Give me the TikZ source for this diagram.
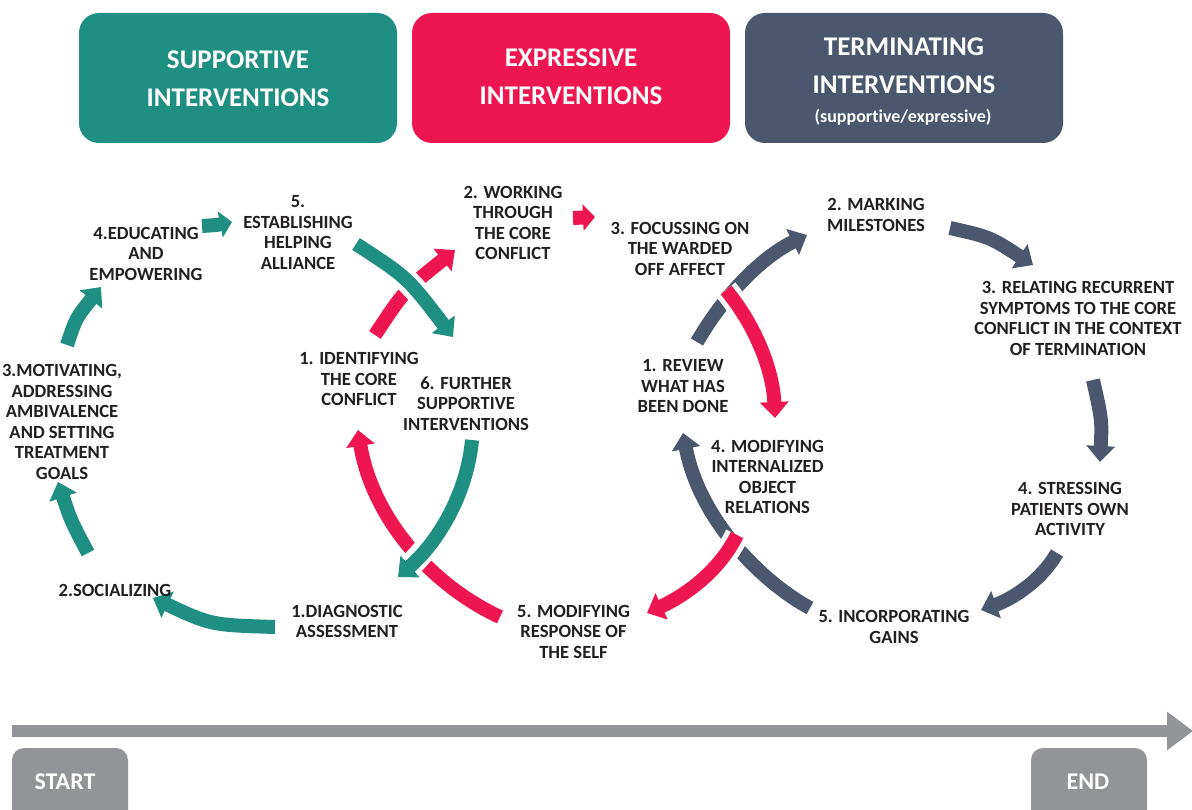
\documentclass[tikz,border=0pt]{standalone}
\usepackage{fontspec}
\setmainfont{Carlito}[Ligatures=NoCommon]
\usetikzlibrary{arrows.meta}
\definecolor{tealc}{HTML}{1F8F84}
\definecolor{redc}{HTML}{EE1651}
\definecolor{slatec}{HTML}{4B566F}
\definecolor{greyc}{HTML}{939498}
\definecolor{ink}{HTML}{231F20}
\begin{document}
\begin{tikzpicture}[x=1pt,y=-1pt,
  lbl/.style={font=\bfseries\fontsize{18.6}{20.5}\selectfont, text=ink, align=center, inner sep=0pt},
  hdrbox/.style={rounded corners=20pt, minimum width=318pt, minimum height=130pt, inner sep=0pt},
  hdrtxt/.style={text=white, align=center, inner sep=0pt, font=\bfseries\fontsize{27}{38}\selectfont},
  carrow/.style={line width=14pt, -{Triangle[width=28pt,length=16pt]}},
  smallarrow/.style={line width=14pt, -{Triangle[width=26pt,length=12pt]}},
  gapline/.style={draw=white, line width=24pt},
  endbox/.style={fill=greyc, rounded corners=12pt, minimum width=116pt, minimum height=90pt, inner sep=0pt},
  endtxt/.style={text=white, inner sep=0pt, font=\bfseries\fontsize{24}{28}\selectfont}
]
\useasboundingbox (0,0) rectangle (1192,810);

% header boxes
\node[hdrbox, fill=tealc] (hsup) at (238,78) {};
\node[hdrbox, fill=redc] (hexp) at (571,78) {};
\node[hdrbox, fill=slatec] (hter) at (904,78) {};
\node[hdrtxt] (tsup) at (238,79) {SUPPORTIVE\\INTERVENTIONS};
\node[hdrtxt] (texp) at (571,77) {EXPRESSIVE\\INTERVENTIONS};
\node[hdrtxt] (tter) at (904,66) {TERMINATING\\INTERVENTIONS};
\node[text=white, inner sep=0pt, font=\bfseries\fontsize{18}{21}\selectfont] (tter2) at (903,117) {(supportive/expressive)};

% timeline
\coordinate (tl0) at (12,731);
\coordinate (tl1) at (1193,731);
\draw[line width=12pt, greyc, -{Triangle[width=37pt,length=26pt]}] (tl0) -- (tl1);
\node[endbox] (bstart) at (70,793) {};
\node[endbox] (bend) at (1089,793) {};
\node[endtxt] (tstart) at (65,782) {START};
\node[endtxt] (tend) at (1088,782) {END};

% arrow end points
\coordinate (a1s) at (275,627); \coordinate (a1e) at (153,598);
\coordinate (a2s) at (88,553);  \coordinate (a2e) at (58,482);
\coordinate (a3s) at (67,345);  \coordinate (a3e) at (101,287);
\coordinate (a4s) at (202,226); \coordinate (a4e) at (232,222);
\coordinate (a5s) at (356,244); \coordinate (a5e) at (453,337);
\coordinate (a6s) at (472,440); \coordinate (a6e) at (398,577);
\coordinate (b1s) at (375,335); \coordinate (b1e) at (455,250);
\coordinate (b2s) at (573,218); \coordinate (b2e) at (595,217);
\coordinate (b3s) at (726,290); \coordinate (b3e) at (775,418);
\coordinate (b4s) at (737,535); \coordinate (b4e) at (647,613);
\coordinate (b5s) at (500,617); \coordinate (b5e) at (358,430);
\coordinate (c1s) at (697,342); \coordinate (c1e) at (807,235);
\coordinate (c2s) at (950,228); \coordinate (c2e) at (1033,265);
\coordinate (c3s) at (1093,380); \coordinate (c3e) at (1100,462);
\coordinate (c4s) at (1057,553); \coordinate (c4e) at (981,610);
\coordinate (c5s) at (810,608); \coordinate (c5e) at (683,433);

% lower arrows
\draw[carrow, tealc] (a1s) .. controls (211,625) .. (a1e);
\draw[carrow, tealc] (a2s) .. controls (71,521) .. (a2e);
\draw[carrow, tealc] (a3s) .. controls (76,318) .. (a3e);
\draw[smallarrow, tealc] (a4s) .. controls (217,225) .. (a4e);
\draw[carrow, redc] (b1s) .. controls (404,291) .. (b1e);
\draw[smallarrow, redc] (b2s) -- (b2e);
\draw[carrow, redc] (b5s) .. controls (425,582) and (371,512) .. (b5e);
\draw[carrow, slatec] (c1s) .. controls (723,297) and (760,258) .. (c1e);
\draw[carrow, slatec] (c2s) .. controls (990,237) .. (c2e);
\draw[carrow, slatec] (c3s) .. controls (1102,420) .. (c3e);
\draw[carrow, slatec] (c4s) .. controls (1041,581) and (1012,599) .. (c4e);
\draw[carrow, slatec] (c5s) .. controls (765,584) and (700,522) .. (c5e);

% upper arrows with white gap
\draw[gapline] (a5s) .. controls (407,277) .. (a5e);
\draw[carrow, tealc] (a5s) .. controls (407,277) .. (a5e);
\draw[gapline] (a6s) .. controls (467,494) and (438,542) .. (a6e);
\draw[carrow, tealc] (a6s) .. controls (467,494) and (438,542) .. (a6e);
\draw[gapline] (b3s) .. controls (756,326) and (773,371) .. (b3e);
\draw[carrow, redc] (b3s) .. controls (756,326) and (773,371) .. (b3e);
\draw[gapline] (b4s) .. controls (719,572) and (684,596) .. (b4e);
\draw[carrow, redc] (b4s) .. controls (719,572) and (684,596) .. (b4e);

% labels
\node[lbl] (n5est) at (298,232.5) {5.\\ESTABLISHING\\HELPING\\ALLIANCE};
\node[lbl] (n4edu) at (146,253.5) {4.EDUCATING\\AND\\EMPOWERING};
\node[lbl] (n3mot) at (62,422) {3.MOTIVATING,\\ADDRESSING\\AMBIVALENCE\\AND SETTING\\TREATMENT\\GOALS};
\node[lbl] (n2soc) at (115,590) {2.SOCIALIZING};
\node[lbl] (n1diag) at (347,621.5) {1.DIAGNOSTIC\\ASSESSMENT};
\node[lbl] (n1id) at (359,379) {1. IDENTIFYING\\THE CORE\\CONFLICT};
\node[lbl] (n6fur) at (466,403.7) {6. FURTHER\\SUPPORTIVE\\INTERVENTIONS};
\node[lbl] (n2work) at (513,223) {2. WORKING\\THROUGH\\THE CORE\\CONFLICT};
\node[lbl] (n3foc) at (680,248.7) {3. FOCUSSING ON\\THE WARDED\\OFF AFFECT};
\node[lbl] (n4mod) at (767.5,477) {4. MODIFYING\\INTERNALIZED\\OBJECT\\RELATIONS};
\node[lbl] (n5mod) at (573.5,631.7) {5. MODIFYING\\RESPONSE OF\\THE SELF};
\node[lbl] (n1rev) at (683,386.3) {1. REVIEW\\WHAT HAS\\BEEN DONE};
\node[lbl] (n2mark) at (876,215) {2. MARKING\\MILESTONES};
\node[lbl] (n3rel) at (1078,318.3) {3. RELATING RECURRENT\\SYMPTOMS TO THE CORE\\CONFLICT IN THE CONTEXT\\OF TERMINATION};
\node[lbl] (n4str) at (1070,509) {4. STRESSING\\PATIENTS OWN\\ACTIVITY};
\node[lbl] (n5inc) at (894,627) {5. INCORPORATING\\GAINS};
\end{tikzpicture}
\end{document}
